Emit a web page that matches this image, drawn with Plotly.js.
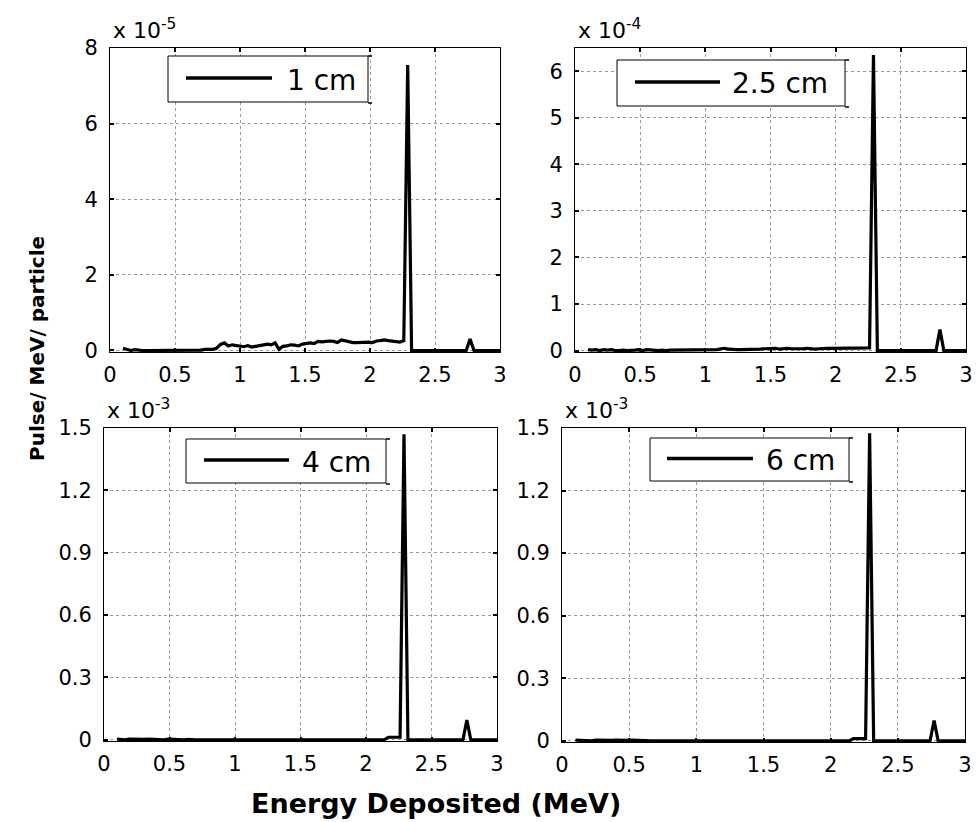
<!DOCTYPE html>
<html>
<head>
<meta charset="utf-8">
<script src="https://cdn.plot.ly/plotly-3.0.1.min.js"></script>
<style>html,body{margin:0;padding:0;background:#fff;}</style>
</head>
<body>
<div id="chart" style="width:977px;height:822px;"></div>
<script>
// Energy deposited (MeV)
const energy = [0.10,0.13,0.16,0.19,0.22,0.25,0.28,0.31,0.34,0.37,0.40,0.43,0.46,0.49,0.52,0.55,0.58,0.61,0.64,0.67,
0.70,0.73,0.76,0.79,0.82,0.85,0.88,0.91,0.94,0.97,1.00,1.03,1.06,1.09,1.12,1.15,1.18,1.21,1.24,1.27,
1.30,1.33,1.36,1.39,1.42,1.45,1.48,1.51,1.54,1.57,1.60,1.63,1.66,1.69,1.72,1.75,1.78,1.81,1.84,1.87,
1.90,1.93,1.96,1.99,2.02,2.05,2.08,2.11,2.14,2.17,2.20,2.23,2.26,2.29,2.32,2.35,2.38,2.41,2.44,2.47,
2.50,2.53,2.56,2.59,2.62,2.65,2.68,2.71,2.74,2.77,2.80,2.83,2.86,2.89,2.92,2.95,2.98,3.00];

// 1 cm  (x 10^-5)
const pulse1cm = [0.06,0.02,0.00,0.02,0.00,0.00,0.00,0.00,0.00,0.00,0.00,0.02,0.00,0.00,0.00,0.00,0.00,0.00,0.00,0.01,
0.01,0.03,0.02,0.03,0.06,0.16,0.20,0.12,0.15,0.14,0.12,0.10,0.13,0.09,0.11,0.13,0.17,0.17,0.15,0.20,
0.03,0.11,0.12,0.15,0.14,0.12,0.17,0.19,0.20,0.18,0.24,0.23,0.25,0.25,0.24,0.21,0.28,0.25,0.22,0.21,
0.21,0.22,0.23,0.22,0.21,0.25,0.26,0.28,0.26,0.25,0.25,0.22,0.26,7.55,0.00,0.00,0.02,0.00,0.01,0.00,
0.02,0.00,0.00,0.00,0.00,0.00,0.00,0.00,0.00,0.30,0.00,0.00,0.00,0.00,0.00,0.00,0.00,0.00];

// 2.5 cm (x 10^-4)
const pulse25cm = [0.02,0.01,0.02,0.00,0.02,0.01,0.02,0.00,0.00,0.01,0.00,0.00,0.01,0.02,0.00,0.02,0.01,0.00,0.00,0.01,
0.00,0.01,0.01,0.01,0.01,0.01,0.01,0.01,0.01,0.01,0.01,0.02,0.02,0.02,0.04,0.05,0.03,0.02,0.02,0.02,
0.02,0.02,0.02,0.02,0.03,0.04,0.04,0.04,0.05,0.03,0.04,0.05,0.04,0.04,0.03,0.04,0.05,0.04,0.03,0.04,
0.05,0.05,0.05,0.05,0.05,0.05,0.05,0.05,0.05,0.05,0.05,0.05,0.06,6.35,0.00,0.00,0.00,0.00,0.00,0.00,
0.00,0.00,0.00,0.00,0.00,0.00,0.00,0.00,0.00,0.00,0.45,0.00,0.00,0.00,0.00,0.00,0.00,0.00];

// 4 cm (x 10^-3)
const pulse4cm = [0.003,0.002,0.000,0.003,0.002,0.003,0.000,0.002,0.003,0.002,0.003,0.002,0.000,0.003,0.002,0.003,0.002,0.000,0.002,0.000,
0.000,0.000,0.000,0.000,0.000,0.000,0.000,0.000,0.000,0.000,0.000,0.000,0.000,0.000,0.000,0.000,0.000,0.000,0.000,0.000,
0.000,0.000,0.000,0.000,0.000,0.000,0.000,0.000,0.000,0.000,0.000,0.000,0.000,0.000,0.000,0.000,0.000,0.000,0.000,0.000,
0.000,0.000,0.000,0.000,0.000,0.000,0.000,0.000,0.000,0.012,0.012,0.012,0.012,1.47,0.000,0.000,0.000,0.000,0.000,0.000,
0.000,0.000,0.000,0.000,0.000,0.000,0.000,0.000,0.000,0.095,0.000,0.000,0.000,0.000,0.000,0.000,0.000,0.000];

// 6 cm (x 10^-3)
const pulse6cm = [0.003,0.002,0.003,0.002,0.000,0.003,0.002,0.003,0.000,0.002,0.003,0.002,0.000,0.002,0.003,0.002,0.000,0.000,0.000,0.000,
0.000,0.000,0.000,0.000,0.000,0.000,0.000,0.000,0.000,0.000,0.000,0.000,0.000,0.000,0.000,0.000,0.000,0.000,0.000,0.000,
0.000,0.000,0.000,0.000,0.000,0.000,0.000,0.000,0.000,0.000,0.000,0.000,0.000,0.000,0.000,0.000,0.000,0.000,0.000,0.000,
0.000,0.000,0.000,0.000,0.000,0.000,0.000,0.000,0.000,0.010,0.010,0.010,0.010,1.475,0.000,0.000,0.000,0.000,0.000,0.000,
0.000,0.000,0.002,0.000,0.000,0.000,0.000,0.000,0.000,0.097,0.000,0.000,0.000,0.000,0.000,0.000,0.000,0.000];

const seriesNames = ["1 cm", "2.5 cm", "4 cm", "6 cm"];
const exponents = ["-5", "-4", "-3", "-3"];
const xTickVals = [0, 0.5, 1, 1.5, 2, 2.5, 3];
const xTickText = ["0", "0.5", "1", "1.5", "2", "2.5", "3"];
const yTickVals1 = [0, 2, 4, 6, 8];
const yTickVals2 = [0, 1, 2, 3, 4, 5, 6];
const yTickVals34 = [0, 0.3, 0.6, 0.9, 1.2, 1.5];
const yTickText34 = ["0", "0.3", "0.6", "0.9", "1.2", "1.5"];

const W = 977, H = 822;
const px = v => v / W;
const py = v => 1 - v / H;
const FONT = "DejaVu Sans, Arial, sans-serif";

// plot boxes in pixels [left, top, right, bottom]
const boxes = [[110, 48, 500, 352], [575, 48, 966, 352], [104, 428, 497, 741], [562, 428, 965, 742]];
const yRanges = [[-0.04, 8], [-0.03, 6.5], [-0.006, 1.5], [-0.006, 1.5]];
const ySeries = [pulse1cm, pulse25cm, pulse4cm, pulse6cm];

const traces = ySeries.map((ys, i) => ({
  x: energy, y: ys, type: "scatter", mode: "lines", name: seriesNames[i],
  xaxis: i === 0 ? "x" : "x" + (i + 1), yaxis: i === 0 ? "y" : "y" + (i + 1),
  line: {color: "#000", width: 3.2}, showlegend: false, hoverinfo: "skip"
}));

const tickFont = {family: FONT, size: 21, color: "#000"};
const layout = {
  width: W, height: H, margin: {l: 0, r: 0, t: 0, b: 0},
  paper_bgcolor: "#fff", plot_bgcolor: "#fff", showlegend: false,
  shapes: [], annotations: []
};

const yTicks = [
  {tickvals: yTickVals1, ticktext: yTickVals1.map(String)},
  {tickvals: yTickVals2, ticktext: yTickVals2.map(String)},
  {tickvals: yTickVals34, ticktext: yTickText34},
  {tickvals: yTickVals34, ticktext: yTickText34}
];

boxes.forEach((b, i) => {
  const sx = i === 0 ? "" : String(i + 1);
  const common = {
    showline: true, linecolor: "#000", linewidth: 1, mirror: "allticks",
    ticks: "inside", ticklen: 4, tickwidth: 2, tickcolor: "#000",
    showgrid: true, gridcolor: "#9a9a9a", gridwidth: 1, griddash: "dot",
    zeroline: false, tickfont: tickFont, fixedrange: true, tickmode: "array"
  };
  layout["xaxis" + sx] = Object.assign({}, common, {
    domain: [px(b[0]), px(b[2])], range: [0, 3], anchor: "y" + sx,
    tickvals: xTickVals, ticktext: xTickText, ticklabelstandoff: 4
  });
  layout["yaxis" + sx] = Object.assign({}, common, {
    domain: [py(b[3]), py(b[1])], range: yRanges[i], anchor: "x" + sx,
    tickvals: yTicks[i].tickvals, ticktext: yTicks[i].ticktext, ticklabelstandoff: 7
  });
  // exponent label
  layout.annotations.push({
    xref: "paper", yref: "paper", x: px(b[0] + 1), y: py(b[1] - 3),
    xanchor: "left", yanchor: "bottom", showarrow: false,
    text: "x 10<sup>" + exponents[i] + "</sup>",
    font: {family: FONT, size: 22, color: "#000"}
  });
});

// legend boxes (pixel geometry) : [left, top, right, bottom, lineX0, lineX1, textX]
const legendBoxes = [
  [168, 56, 368, 102, 186, 272, 285],
  [617, 60, 845, 106, 635, 720, 730],
  [186, 439, 386, 483, 204, 289, 300],
  [650, 438, 849, 481, 667, 753, 764]
];
legendBoxes.forEach((g, i) => {
  const [l, t, r, btm, lx0, lx1, tx] = g;
  const cy = (t + btm) / 2;
  layout.shapes.push({type: "rect", xref: "paper", yref: "paper", x0: px(l), x1: px(r), y0: py(btm), y1: py(t),
    line: {color: "#000", width: 1}, fillcolor: "#fff", layer: "above"});
  layout.shapes.push({type: "line", xref: "paper", yref: "paper", x0: px(r), x1: px(r + 4), y0: py(t), y1: py(t),
    line: {color: "#000", width: 1.5}, layer: "above"});
  layout.shapes.push({type: "line", xref: "paper", yref: "paper", x0: px(r), x1: px(r + 4), y0: py(btm + 1), y1: py(btm + 1),
    line: {color: "#000", width: 1.5}, layer: "above"});
  layout.shapes.push({type: "line", xref: "paper", yref: "paper", x0: px(lx0), x1: px(lx1), y0: py(cy - 1), y1: py(cy - 1),
    line: {color: "#000", width: 3.5}, layer: "above"});
  layout.annotations.push({
    xref: "paper", yref: "paper", x: px(tx), y: py(cy + 1), xanchor: "left", yanchor: "middle",
    showarrow: false, text: seriesNames[i],
    font: {family: FONT, size: 28, color: "#000"}
  });
});

// axis titles
layout.annotations.push({
  xref: "paper", yref: "paper", x: px(436), y: py(803), xanchor: "center", yanchor: "middle",
  showarrow: false, text: "Energy Deposited (MeV)",
  font: {family: FONT, size: 27, color: "#000", weight: "bold"}
});
layout.annotations.push({
  xref: "paper", yref: "paper", x: px(37), y: py(349), xanchor: "center", yanchor: "middle",
  showarrow: false, textangle: -90, text: "Pulse/ MeV/ particle",
  font: {family: FONT, size: 20, color: "#000", weight: "bold"}
});

Plotly.newPlot("chart", traces, layout, {staticPlot: true, displayModeBar: false});
</script>
</body>
</html>
